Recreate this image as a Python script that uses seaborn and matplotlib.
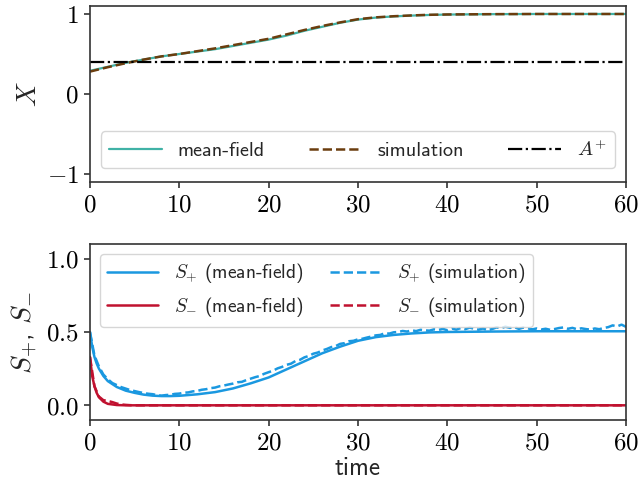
import numpy as np
import pandas as pd
import matplotlib
matplotlib.use('Agg')
import matplotlib.pyplot as plt
from matplotlib.ticker import FuncFormatter
import seaborn as sns

# X(t), mean-field and simulation
t_x = [0, 2, 4, 6, 8, 10, 12, 14, 16, 18, 20, 22, 24, 26, 28, 30, 32, 34, 36, 38,
       40, 45, 50, 55, 60]
x_mf = [0.29, 0.34, 0.39, 0.43, 0.47, 0.50, 0.53, 0.56, 0.60, 0.64, 0.68, 0.73, 0.79,
        0.84, 0.89, 0.93, 0.955, 0.97, 0.98, 0.988, 0.993, 0.998, 1.0, 1.0, 1.0]
x_sim = [0.28, 0.335, 0.385, 0.43, 0.47, 0.50, 0.535, 0.57, 0.61, 0.65, 0.69, 0.745, 0.80,
         0.85, 0.895, 0.935, 0.958, 0.972, 0.982, 0.99, 0.994, 0.998, 1.0, 1.0, 1.0]
a_plus = 0.4

# S+ and S- mean-field
t_mf = [0, 0.25, 0.5, 0.75, 1, 1.5, 2, 3, 4, 5, 6, 7, 8, 9, 10, 12, 14, 16, 18, 20,
        22, 24, 26, 28, 30, 32, 34, 36, 38, 40, 45, 50, 55, 60]
sp_mf = [0.50, 0.40, 0.33, 0.285, 0.25, 0.20, 0.165, 0.125, 0.10, 0.085, 0.073, 0.066,
         0.063, 0.063, 0.065, 0.075, 0.09, 0.115, 0.15, 0.19, 0.245, 0.30, 0.355, 0.40,
         0.44, 0.465, 0.48, 0.49, 0.497, 0.50, 0.503, 0.505, 0.505, 0.505]
sm_mf = [0.33, 0.20, 0.13, 0.085, 0.055, 0.025, 0.01, 0.002, 0, 0, 0, 0, 0, 0, 0, 0, 0,
         0, 0, 0, 0, 0, 0, 0, 0, 0, 0, 0, 0, 0, 0, 0, 0, 0]

# S+ and S- simulation, sampled every 0.5
t_sim = [i * 0.5 for i in range(121)]
sp_sim = [0.50, 0.34, 0.265, 0.21, 0.178, 0.152, 0.138, 0.124, 0.114, 0.104,
          0.097, 0.09, 0.084, 0.079, 0.076, 0.07, 0.066, 0.07, 0.072, 0.078,
          0.08, 0.086, 0.088, 0.095, 0.098, 0.106, 0.11, 0.117, 0.121, 0.13,
          0.135, 0.142, 0.148, 0.157, 0.16, 0.172, 0.182, 0.192, 0.2, 0.215,
          0.226, 0.236, 0.252, 0.262, 0.276, 0.284, 0.302, 0.31, 0.327, 0.337,
          0.352, 0.36, 0.374, 0.384, 0.397, 0.404, 0.419, 0.424, 0.437, 0.44,
          0.45, 0.454, 0.462, 0.469, 0.477, 0.48, 0.492, 0.489, 0.498, 0.5,
          0.507, 0.503, 0.512, 0.506, 0.515, 0.511, 0.509, 0.518, 0.514, 0.521,
          0.512, 0.524, 0.516, 0.527, 0.519, 0.53, 0.522, 0.516, 0.524, 0.512,
          0.52, 0.531, 0.526, 0.536, 0.528, 0.533, 0.521, 0.53, 0.525, 0.518,
          0.524, 0.517, 0.522, 0.515, 0.52, 0.527, 0.531, 0.522, 0.528, 0.519,
          0.525, 0.52, 0.516, 0.524, 0.519, 0.527, 0.533, 0.545, 0.538, 0.55,
          0.535]
sm_sim = [0.33, 0.13, 0.06, 0.035, 0.03, 0.022, 0.012, 0.006, 0.003, 0.001] + [0] * 111

blue = '#1a98e0'
red = '#c0112f'
teal = '#40b2a6'
brown = '#6b3d0e'

sns.set_theme(style='ticks')
plt.rcParams['font.family'] = ['cmss10', 'DejaVu Sans']
plt.rcParams['mathtext.fontset'] = 'cm'
plt.rcParams['axes.edgecolor'] = '#333333'
plt.rcParams['axes.linewidth'] = 1.2
plt.rcParams['xtick.color'] = '#333333'
plt.rcParams['ytick.color'] = '#333333'
plt.rcParams['xtick.labelcolor'] = 'black'
plt.rcParams['ytick.labelcolor'] = 'black'

fig = plt.figure(figsize=(6.39, 4.87), dpi=100)
ax1 = fig.add_axes([0.1408, 0.6263, 0.8389, 0.3614])
ax2 = fig.add_axes([0.1408, 0.1376, 0.8389, 0.3614])

sns.lineplot(x=t_x, y=x_mf, ax=ax1, color=teal, lw=1.6, label='mean-field')
sns.lineplot(x=t_x, y=x_sim, ax=ax1, color=brown, lw=1.8, linestyle='--',
             label='simulation')
ax1.axhline(a_plus, color='black', lw=1.6, linestyle='-.', label='$A^{+}$')
ax1.set_xlim(0, 60)
ax1.set_ylim(-1.1, 1.1)
ax1.set_yticks([-1, 0, 1])
ax1.set_ylabel('$X$', fontsize=20)
ax1.legend(loc='lower center', ncol=3, fontsize=14.5, handlelength=2.6,
           columnspacing=2.2, bbox_to_anchor=(0.5, 0.02))

sns.lineplot(x=t_mf, y=sp_mf, ax=ax2, color=blue, lw=1.8, label='$S_{+}$ (mean-field)')
sns.lineplot(x=t_mf, y=sm_mf, ax=ax2, color=red, lw=1.8, label='$S_{-}$ (mean-field)')
sns.lineplot(x=t_sim, y=sp_sim, ax=ax2, color=blue, lw=1.8, linestyle='--',
             label='$S_{+}$ (simulation)')
sns.lineplot(x=t_sim, y=sm_sim, ax=ax2, color=red, lw=1.8, linestyle='--',
             label='$S_{-}$ (simulation)')
ax2.set_xlim(0, 60)
ax2.set_ylim(-0.1, 1.1)
ax2.set_yticks([0, 0.5, 1.0])
ax2.set_ylabel('$S_{+}$, $S_{-}$', fontsize=20)
ax2.set_xlabel('time', fontsize=18, labelpad=2)
ax2.legend(loc='upper left', ncol=2, fontsize=14, handlelength=2.6,
           columnspacing=1.4)

for ax in (ax1, ax2):
    ax.set_xticks([0, 10, 20, 30, 40, 50, 60])
    ax.xaxis.set_major_formatter(FuncFormatter(lambda v, p: f'${v:g}$'))
    ax.tick_params(labelsize=18, length=4.5, width=1.2)
ax1.yaxis.set_major_formatter(FuncFormatter(lambda v, p: f'${v:g}$'))
ax2.yaxis.set_major_formatter(FuncFormatter(lambda v, p: f'${v:.1f}$'))

fig.savefig('out.png', dpi=100)
